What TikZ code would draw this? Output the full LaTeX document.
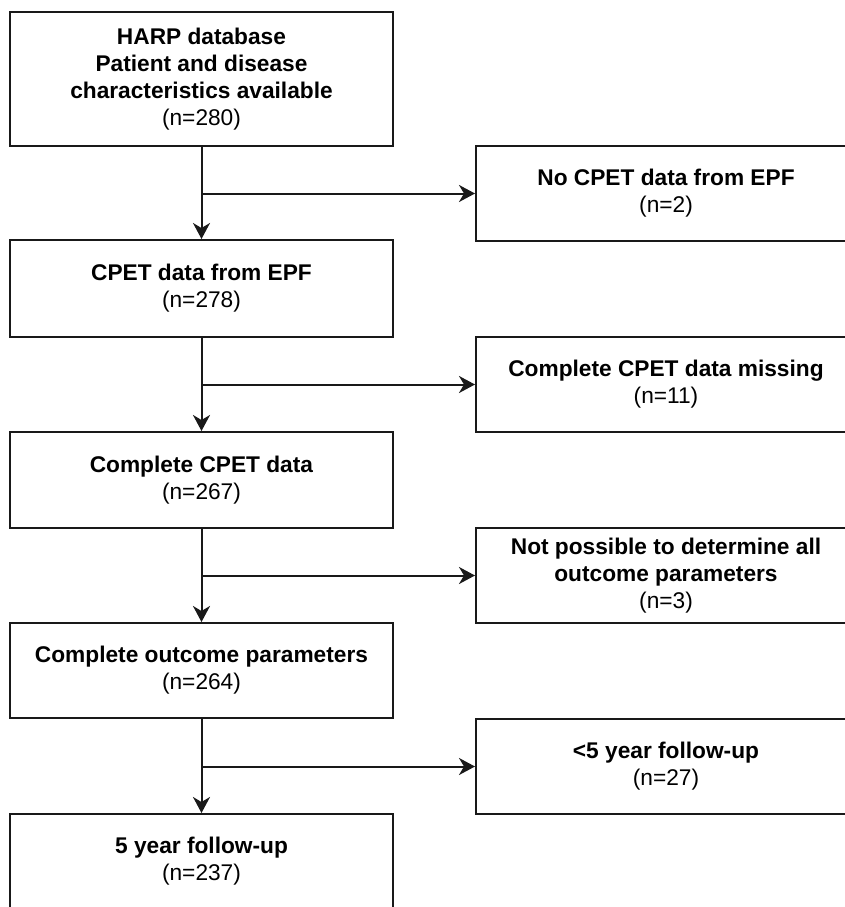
\documentclass[tikz,border=0pt]{standalone}
\usepackage{fontspec}
\setmainfont{Liberation Sans}
\usetikzlibrary{arrows.meta}
\begin{document}
\begin{tikzpicture}[x=1pt,y=-1pt,
  box/.style={draw=black!90,line width=2pt,fill=white,align=center,inner sep=0pt,
    font=\fontsize{22.7}{27}\selectfont},
  lbox/.style={box,minimum width=383pt},
  rbox/.style={box,minimum width=380pt,minimum height=95pt},
  arr/.style={line width=2pt,draw=black!90,-{Stealth[length=16pt,width=17pt,inset=5pt]}},
  ln/.style={line width=2pt,draw=black!90}]
\useasboundingbox[fill=white] (0,0) rectangle (845,907);
\node[lbox,minimum height=134pt] (b1) at (201.5,79) {\textbf{HARP database}\\\textbf{Patient and disease}\\\textbf{characteristics available}\\(n=280)};
\node[lbox,minimum height=97pt] (b2) at (201.5,288.5) {\textbf{CPET data from EPF}\\(n=278)};
\node[lbox,minimum height=96pt] (b3) at (201.5,480) {\textbf{Complete CPET data}\\(n=267)};
\node[lbox,minimum height=95pt] (b4) at (201.5,670.5) {\textbf{Complete outcome parameters}\\(n=264)};
\node[lbox,minimum height=95pt] (b5) at (201.5,861.5) {\textbf{5 year follow-up}\\(n=237)};
\node[rbox] (r1) at (666,193.5) {\textbf{No CPET data from EPF}\\(n=2)};
\node[rbox] (r2) at (666,384.5) {\textbf{Complete CPET data missing}\\(n=11)};
\node[rbox] (r3) at (666,575.5) {\textbf{Not possible to determine all}\\\textbf{outcome parameters}\\(n=3)};
\node[rbox] (r4) at (666,766.5) {\textbf{<5 year follow-up}\\(n=27)};
\draw[arr] (b1.south) -- (b2.north);
\draw[arr] (b2.south) -- (b3.north);
\draw[arr] (b3.south) -- (b4.north);
\draw[arr] (b4.south) -- (b5.north);
\draw[arr] (b1.south |- r1.west) -- (r1.west);
\draw[arr] (b2.south |- r2.west) -- (r2.west);
\draw[arr] (b3.south |- r3.west) -- (r3.west);
\draw[arr] (b4.south |- r4.west) -- (r4.west);
\end{tikzpicture}
\end{document}
